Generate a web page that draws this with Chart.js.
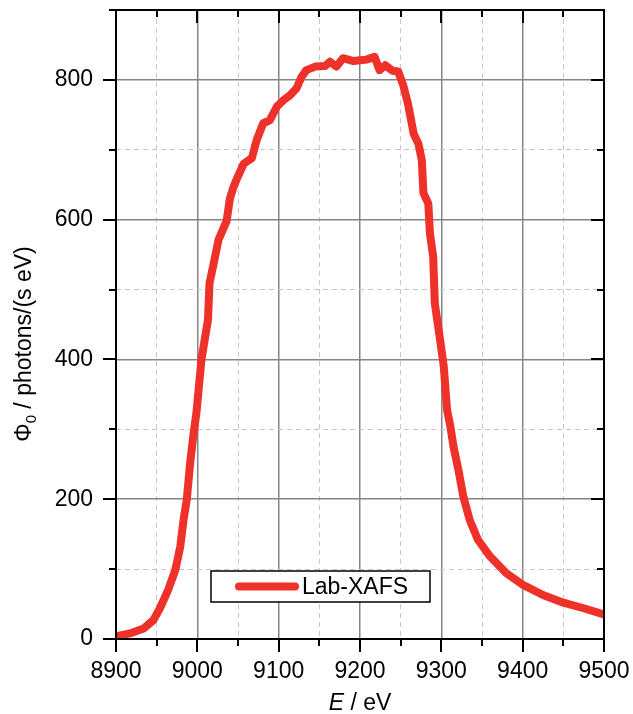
<!DOCTYPE html>
<html>
<head>
<meta charset="utf-8">
<script src="https://cdn.jsdelivr.net/npm/chart.js@4.4.1/dist/chart.umd.min.js"></script>
<style>
  body { margin: 0; background: #fff; }
  canvas { display: block; }
</style>
</head>
<body>
<canvas id="flux-chart" width="633" height="714"></canvas>
<script>
// photon energy (eV) and flux
const energy = [
  8901, 8917, 8934, 8946, 8954, 8964, 8973, 8979, 8983, 8987,
  8991, 8995, 8999, 9005, 9009, 9013, 9015, 9020, 9026, 9033,
  9036, 9040, 9044, 9048, 9057, 9067, 9073, 9081, 9089, 9098,
  9106, 9114, 9122, 9128, 9134, 9145, 9157, 9163, 9171, 9179,
  9192, 9200, 9208, 9218, 9224, 9231, 9240, 9247, 9253, 9259,
  9266, 9272, 9276, 9278, 9284, 9286, 9290, 9292, 9298, 9303,
  9307, 9311, 9315, 9321, 9327, 9335, 9345, 9360, 9380, 9401,
  9425, 9450, 9475, 9500,
];
const flux = [
  4, 8, 15, 27, 44, 70, 99, 132, 170, 199,
  250, 290, 325, 399, 428, 456, 509, 537, 571, 590,
  598, 630, 645, 657, 680, 688, 714, 738, 742, 762,
  771, 778, 788, 804, 814, 819, 820, 826, 819, 831,
  827, 828, 829, 833, 814, 821, 813, 812, 793, 766,
  723, 708, 685, 638, 623, 580, 547, 480, 432, 390,
  328, 305, 275, 242, 204, 170, 142, 118, 94, 77,
  63, 52, 44, 35,
];
const seriesLabel = "Lab-XAFS";

const xRange = [8900, 9500];
const yRange = [0, 900];
const xLabelStep = 100;
const yLabelStep = 200;

const FONT = "'Liberation Sans', Arial, sans-serif";
const RED = "#ee3129";

const isMajorX = (v) => v % xLabelStep === 0;
const isMajorY = (v) => v % yLabelStep === 0;

// keep the plot area where the reference has it
const noEdgePadding = (s) => {
  s.paddingLeft = 0;
  s.paddingRight = 0;
  s.paddingTop = 0;
  s.paddingBottom = 0;
};

// tick marks, frame, axis titles and the boxed legend
const decorations = {
  id: "decorations",
  afterDraw(chart) {
    const { ctx, chartArea: a, scales } = chart;
    const x = scales.x;
    const y = scales.y;
    ctx.save();
    ctx.strokeStyle = "#000";
    ctx.lineWidth = 2;

    ctx.beginPath();
    x.ticks.forEach((t) => {
      const px = Math.round(x.getPixelForValue(t.value));
      const len = isMajorX(t.value) ? 13 : 7;
      ctx.moveTo(px, a.bottom);
      ctx.lineTo(px, a.bottom + len);
      ctx.moveTo(px, a.top);
      ctx.lineTo(px, a.top + len);
    });
    y.ticks.forEach((t) => {
      const py = Math.round(y.getPixelForValue(t.value));
      const len = isMajorY(t.value) ? 13 : 7;
      ctx.moveTo(a.left, py);
      ctx.lineTo(a.left - len, py);
      ctx.moveTo(a.right, py);
      ctx.lineTo(a.right - len, py);
    });
    ctx.stroke();
    ctx.strokeRect(a.left, a.top, a.right - a.left, a.bottom - a.top);

    // x title: E / eV
    ctx.fillStyle = "#000";
    ctx.textBaseline = "alphabetic";
    ctx.font = "italic 23px " + FONT;
    const e = "E";
    const ew = ctx.measureText(e).width;
    ctx.font = "23px " + FONT;
    const rest = " / eV";
    const rw = ctx.measureText(rest).width;
    const cx = (a.left + a.right) / 2;
    let sx = cx - (ew + rw) / 2;
    ctx.font = "italic 23px " + FONT;
    ctx.fillText(e, sx, 710);
    ctx.font = "23px " + FONT;
    ctx.fillText(rest, sx + ew, 710);

    // y title: Φ0 / photons/(s eV)
    ctx.save();
    ctx.translate(31, 344);
    ctx.rotate(-Math.PI / 2);
    ctx.font = "23px " + FONT;
    const phiW = ctx.measureText("Φ").width;
    const tail = " / photons/(s eV)";
    const tailW = ctx.measureText(tail).width;
    ctx.font = "15px " + FONT;
    const subW = ctx.measureText("0").width;
    let ty = -(phiW + subW + tailW) / 2;
    ctx.font = "23px " + FONT;
    ctx.fillText("Φ", ty, 0);
    ctx.font = "15px " + FONT;
    ctx.fillText("0", ty + phiW, 5);
    ctx.font = "23px " + FONT;
    ctx.fillText(tail, ty + phiW + subW, 0);
    ctx.restore();

    // legend box
    const ds = chart.data.datasets[0];
    const lx = a.left + 95;
    const ly = a.bottom - 68;
    const lw = 219;
    const lh = 31;
    ctx.fillStyle = "#fff";
    ctx.fillRect(lx, ly, lw, lh);
    ctx.lineWidth = 1.5;
    ctx.strokeRect(lx, ly, lw, lh);
    ctx.strokeStyle = ds.borderColor;
    ctx.lineWidth = ds.borderWidth;
    ctx.lineCap = "round";
    ctx.beginPath();
    ctx.moveTo(lx + 28, ly + lh / 2);
    ctx.lineTo(lx + 84, ly + lh / 2);
    ctx.stroke();
    ctx.fillStyle = "#000";
    ctx.font = "23px " + FONT;
    ctx.textBaseline = "middle";
    ctx.fillText(ds.label, lx + 91, ly + lh / 2 + 1);

    ctx.restore();
  },
};

const gridColor = (major) => (major ? "#858585" : "#c6c6c6");

const ctx = document.getElementById("flux-chart");
const fluxChart = new Chart(ctx, {
  type: "line",
  data: {
    datasets: [
      {
        label: seriesLabel,
        data: energy.map((e, i) => ({ x: e, y: flux[i] })),
        borderColor: RED,
        borderWidth: 8,
        borderCapStyle: "round",
        borderJoinStyle: "round",
        pointRadius: 0,
        tension: 0,
        fill: false,
      },
    ],
  },
  options: {
    responsive: false,
    animation: false,
    devicePixelRatio: 1,
    layout: { padding: { left: 0, right: 29, top: 10, bottom: 0 } },
    plugins: {
      legend: { display: false },
      tooltip: { enabled: false },
    },
    scales: {
      x: {
        type: "linear",
        min: xRange[0],
        max: xRange[1],
        afterFit: (s) => { s.height = 75; noEdgePadding(s); },
        ticks: {
          stepSize: 50,
          autoSkip: false,
          maxRotation: 0,
          padding: 19,
          color: "#000",
          font: { family: FONT, size: 23 },
          callback: (v) => (isMajorX(v) ? String(v) : ""),
        },
        grid: {
          drawTicks: false,
          color: (c) => gridColor(isMajorX(c.tick.value)),
          lineWidth: (c) => (isMajorX(c.tick.value) ? 1.5 : 1),
        },
        border: {
          display: false,
          dash: (c) => (c.tick && isMajorX(c.tick.value) ? [] : [5, 4]),
        },
      },
      y: {
        type: "linear",
        min: yRange[0],
        max: yRange[1],
        afterFit: (s) => { s.width = 116; noEdgePadding(s); },
        ticks: {
          stepSize: 100,
          autoSkip: false,
          padding: 23,
          color: "#000",
          font: { family: FONT, size: 23 },
          callback: (v) => (isMajorY(v) ? String(v) : ""),
        },
        grid: {
          drawTicks: false,
          color: (c) => gridColor(isMajorY(c.tick.value)),
          lineWidth: (c) => (isMajorY(c.tick.value) ? 1.5 : 1),
        },
        border: {
          display: false,
          dash: (c) => (c.tick && isMajorY(c.tick.value) ? [] : [5, 4]),
        },
      },
    },
  },
  plugins: [decorations],
});
</script>
</body>
</html>
